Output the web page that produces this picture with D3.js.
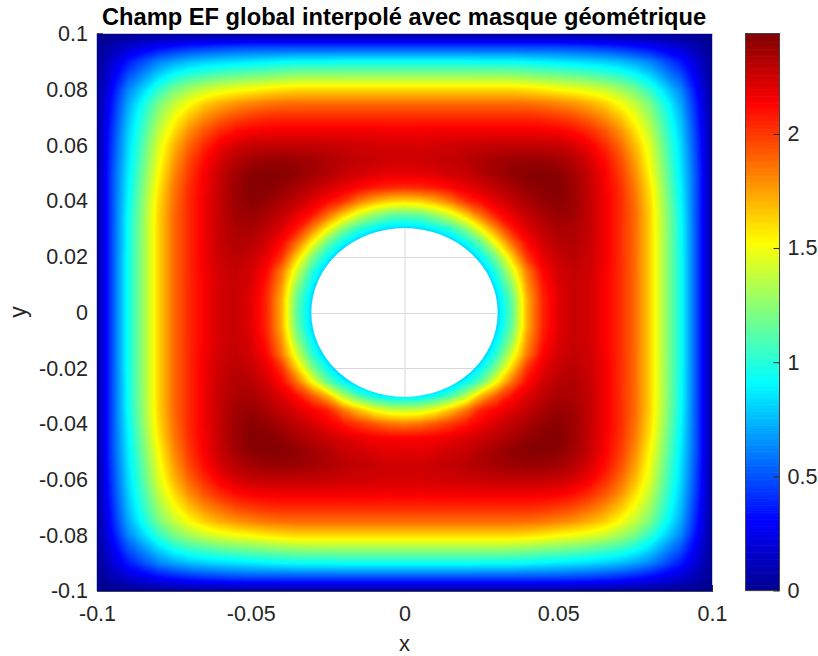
<!DOCTYPE html>
<html>
<head>
<meta charset="utf-8">
<script src="https://cdn.jsdelivr.net/npm/d3@7"></script>
<style>
  html, body { margin: 0; padding: 0; background: #fff; }
  text { font-family: "Liberation Sans", Arial, sans-serif; }
</style>
</head>
<body>
<div id="chart"></div>
<script>
// Values
var xValues = d3.range(41).map(function(i) { return -0.1 + i * 0.005; });
var yValues = d3.range(41).map(function(i) { return 0.1 - i * 0.005; });

var xTicks = [-0.1, -0.05, 0, 0.05, 0.1];
var xTickLabels = ["-0.1", "-0.05", "0", "0.05", "0.1"];
var yTicks = [-0.1, -0.08, -0.06, -0.04, -0.02, 0, 0.02, 0.04, 0.06, 0.08, 0.1];
var yTickLabels = ["-0.1", "-0.08", "-0.06", "-0.04", "-0.02", "0", "0.02", "0.04", "0.06", "0.08", "0.1"];
var barTicks = [0, 0.5, 1, 1.5, 2];
var barTickLabels = ["0", "0.5", "1", "1.5", "2"];
var fieldMax = 2.44;
var holeRadius = 0.0303;
var jetStops = [0, 0.125, 0.375, 0.625, 0.875, 1];
var jetColors = ["#00008f", "#0000ff", "#00ffff", "#ffff00", "#ff0000", "#800000"];

// Field values, one row per y from 0.1 down to -0.1
var fieldRows = [
[0,.01,.01,.02,.02,.02,.02,.03,.03,.03,.03,.03,.03,.03,.03,.03,.03,.03,.03,.03,.03,.03,.03,.03,.03,.03,.03,.03,.03,.03,.03,.03,.03,.03,.02,.02,.02,.02,.01,.01,0],
[.01,.10,.19,.25,.32,.37,.41,.44,.46,.48,.49,.49,.49,.49,.49,.49,.49,.49,.49,.49,.49,.49,.49,.49,.49,.49,.49,.49,.49,.49,.49,.48,.46,.44,.41,.37,.32,.25,.19,.10,.01],
[.01,.19,.36,.49,.62,.70,.76,.80,.83,.85,.87,.89,.91,.93,.93,.93,.94,.94,.94,.94,.94,.94,.94,.94,.94,.93,.93,.93,.91,.89,.87,.85,.83,.80,.76,.70,.62,.49,.36,.19,.01],
[.02,.25,.49,.65,.82,.95,1.04,1.09,1.14,1.17,1.20,1.22,1.25,1.27,1.28,1.28,1.28,1.28,1.28,1.28,1.28,1.28,1.28,1.28,1.28,1.28,1.28,1.27,1.25,1.22,1.20,1.17,1.14,1.09,1.04,.95,.82,.65,.49,.25,.02],
[.02,.32,.62,.82,1.03,1.20,1.31,1.40,1.46,1.50,1.53,1.57,1.60,1.62,1.62,1.62,1.62,1.62,1.62,1.62,1.62,1.62,1.62,1.62,1.62,1.62,1.62,1.62,1.60,1.57,1.53,1.50,1.46,1.40,1.31,1.20,1.03,.82,.62,.32,.02],
[.02,.37,.70,.95,1.20,1.38,1.52,1.64,1.72,1.78,1.82,1.85,1.87,1.88,1.88,1.88,1.88,1.88,1.88,1.88,1.88,1.88,1.88,1.88,1.88,1.88,1.88,1.88,1.87,1.85,1.82,1.78,1.72,1.64,1.52,1.38,1.20,.95,.70,.37,.02],
[.03,.40,.75,1.02,1.29,1.50,1.67,1.80,1.89,1.96,2.00,2.03,2.04,2.04,2.04,2.04,2.04,2.04,2.04,2.04,2.04,2.04,2.04,2.04,2.04,2.04,2.04,2.04,2.04,2.03,2.00,1.96,1.89,1.80,1.67,1.50,1.29,1.02,.75,.40,.03],
[.03,.43,.79,1.07,1.37,1.60,1.80,1.94,2.04,2.11,2.15,2.16,2.17,2.17,2.17,2.17,2.17,2.17,2.17,2.16,2.16,2.16,2.17,2.17,2.17,2.17,2.17,2.17,2.17,2.16,2.15,2.11,2.04,1.94,1.80,1.60,1.37,1.07,.79,.43,.03],
[.03,.45,.82,1.12,1.44,1.69,1.89,2.04,2.16,2.23,2.27,2.28,2.28,2.28,2.28,2.27,2.26,2.25,2.24,2.23,2.23,2.23,2.24,2.25,2.26,2.27,2.28,2.28,2.28,2.28,2.27,2.23,2.16,2.04,1.89,1.69,1.44,1.12,.82,.45,.03],
[.03,.47,.84,1.15,1.48,1.75,1.96,2.11,2.23,2.31,2.35,2.37,2.38,2.37,2.35,2.33,2.30,2.28,2.27,2.25,2.25,2.25,2.27,2.28,2.30,2.33,2.35,2.37,2.38,2.37,2.35,2.31,2.23,2.11,1.96,1.75,1.48,1.15,.84,.47,.03],
[.03,.49,.86,1.19,1.52,1.80,2.00,2.15,2.27,2.35,2.41,2.43,2.42,2.40,2.36,2.32,2.27,2.25,2.22,2.20,2.20,2.20,2.22,2.25,2.27,2.32,2.36,2.40,2.42,2.43,2.41,2.35,2.27,2.15,2.00,1.80,1.52,1.19,.86,.49,.03],
[.03,.49,.88,1.22,1.57,1.84,2.03,2.16,2.28,2.37,2.43,2.42,2.39,2.34,2.29,2.24,2.19,2.13,2.08,2.05,2.04,2.05,2.08,2.13,2.19,2.24,2.29,2.34,2.39,2.42,2.43,2.37,2.28,2.16,2.03,1.84,1.57,1.22,.88,.49,.03],
[.03,.49,.90,1.25,1.60,1.86,2.04,2.17,2.28,2.37,2.41,2.39,2.34,2.28,2.21,2.12,2.02,1.85,1.72,1.64,1.61,1.64,1.72,1.85,2.02,2.12,2.21,2.28,2.34,2.39,2.41,2.37,2.28,2.17,2.04,1.86,1.60,1.25,.90,.49,.03],
[.03,.49,.92,1.27,1.62,1.88,2.04,2.17,2.28,2.36,2.38,2.34,2.28,2.19,2.08,1.87,1.64,1.43,1.27,1.16,1.13,1.16,1.27,1.43,1.64,1.87,2.08,2.19,2.28,2.34,2.38,2.36,2.28,2.17,2.04,1.88,1.62,1.27,.92,.49,.03],
[.03,.49,.93,1.28,1.62,1.88,2.04,2.17,2.28,2.33,2.34,2.29,2.21,2.08,1.82,1.53,1.23,1.03,.91,.82,.80,.82,.91,1.03,1.23,1.53,1.82,2.08,2.21,2.29,2.34,2.33,2.28,2.17,2.04,1.88,1.62,1.28,.93,.49,.03],
[.03,.49,.93,1.28,1.62,1.88,2.04,2.17,2.27,2.32,2.31,2.24,2.12,1.87,1.53,1.16,.93,.74,.57,.46,.42,.46,.57,.74,.93,1.16,1.53,1.87,2.12,2.24,2.31,2.32,2.27,2.17,2.04,1.88,1.62,1.28,.93,.49,.03],
[.03,.49,.94,1.28,1.62,1.88,2.04,2.17,2.26,2.30,2.27,2.19,2.02,1.64,1.23,.93,.66,.42,.25,.15,.12,.15,.25,.42,.66,.93,1.23,1.64,2.02,2.19,2.27,2.30,2.26,2.17,2.04,1.88,1.62,1.28,.94,.49,.03],
[.03,.49,.94,1.28,1.62,1.88,2.04,2.16,2.25,2.28,2.24,2.13,1.85,1.43,1.03,.74,.42,.17,.08,.05,.05,.05,.08,.17,.42,.74,1.03,1.43,1.85,2.13,2.24,2.28,2.25,2.16,2.04,1.88,1.62,1.28,.94,.49,.03],
[.03,.49,.94,1.28,1.62,1.88,2.04,2.15,2.24,2.27,2.22,2.08,1.78,1.27,.91,.57,.25,.08,.05,.05,.05,.05,.05,.08,.25,.57,.91,1.27,1.78,2.08,2.22,2.27,2.24,2.15,2.04,1.88,1.62,1.28,.94,.49,.03],
[.03,.49,.94,1.28,1.62,1.88,2.04,2.15,2.24,2.27,2.20,2.05,1.72,1.16,.82,.46,.15,.06,.05,.05,.05,.05,.05,.06,.15,.46,.82,1.16,1.72,2.05,2.20,2.27,2.24,2.15,2.04,1.88,1.62,1.28,.94,.49,.03],
[.03,.49,.94,1.28,1.62,1.88,2.04,2.15,2.24,2.27,2.21,2.05,1.72,1.13,.80,.42,.12,.05,.05,.05,.05,.05,.05,.05,.12,.42,.80,1.13,1.72,2.05,2.21,2.27,2.24,2.15,2.04,1.88,1.62,1.28,.94,.49,.03],
[.03,.49,.94,1.28,1.62,1.88,2.04,2.15,2.24,2.27,2.20,2.05,1.72,1.16,.82,.46,.15,.06,.05,.05,.05,.05,.05,.06,.15,.46,.82,1.16,1.72,2.05,2.20,2.27,2.24,2.15,2.04,1.88,1.62,1.28,.94,.49,.03],
[.03,.49,.94,1.28,1.62,1.88,2.04,2.15,2.24,2.27,2.22,2.08,1.78,1.27,.91,.57,.25,.08,.05,.05,.05,.05,.05,.08,.25,.57,.91,1.27,1.78,2.08,2.22,2.27,2.24,2.15,2.04,1.88,1.62,1.28,.94,.49,.03],
[.03,.49,.94,1.28,1.62,1.88,2.04,2.16,2.25,2.28,2.24,2.13,1.85,1.43,1.03,.74,.42,.17,.08,.05,.05,.05,.08,.17,.42,.74,1.03,1.43,1.85,2.13,2.24,2.28,2.25,2.16,2.04,1.88,1.62,1.28,.94,.49,.03],
[.03,.49,.94,1.28,1.62,1.88,2.04,2.17,2.26,2.30,2.27,2.19,2.02,1.64,1.23,.93,.66,.42,.25,.15,.12,.15,.25,.42,.66,.93,1.23,1.64,2.02,2.19,2.27,2.30,2.26,2.17,2.04,1.88,1.62,1.28,.94,.49,.03],
[.03,.49,.93,1.28,1.62,1.88,2.04,2.17,2.27,2.32,2.31,2.24,2.12,1.87,1.53,1.16,.93,.74,.57,.46,.42,.46,.57,.74,.93,1.16,1.53,1.87,2.12,2.24,2.31,2.32,2.27,2.17,2.04,1.88,1.62,1.28,.93,.49,.03],
[.03,.49,.93,1.28,1.62,1.88,2.04,2.17,2.28,2.33,2.34,2.29,2.21,2.10,1.92,1.70,1.35,1.10,.95,.86,.84,.86,.95,1.10,1.35,1.70,1.92,2.10,2.21,2.29,2.34,2.33,2.28,2.17,2.04,1.88,1.62,1.28,.93,.49,.03],
[.03,.49,.92,1.27,1.62,1.88,2.04,2.17,2.28,2.36,2.38,2.34,2.28,2.21,2.14,2.06,1.85,1.67,1.50,1.40,1.38,1.40,1.50,1.67,1.85,2.06,2.14,2.21,2.28,2.34,2.38,2.36,2.28,2.17,2.04,1.88,1.62,1.27,.92,.49,.03],
[.03,.49,.90,1.25,1.60,1.86,2.04,2.17,2.28,2.37,2.41,2.39,2.34,2.29,2.23,2.16,2.08,2.00,1.93,1.86,1.83,1.86,1.93,2.00,2.08,2.16,2.23,2.29,2.34,2.39,2.41,2.37,2.28,2.17,2.04,1.86,1.60,1.25,.90,.49,.03],
[.03,.49,.88,1.22,1.57,1.84,2.03,2.16,2.28,2.37,2.43,2.42,2.39,2.34,2.30,2.26,2.22,2.18,2.15,2.14,2.14,2.14,2.15,2.18,2.22,2.26,2.30,2.34,2.39,2.42,2.43,2.37,2.28,2.16,2.03,1.84,1.57,1.22,.88,.49,.03],
[.03,.49,.86,1.19,1.52,1.80,2.00,2.15,2.27,2.35,2.41,2.43,2.42,2.40,2.36,2.32,2.27,2.25,2.22,2.20,2.20,2.20,2.22,2.25,2.27,2.32,2.36,2.40,2.42,2.43,2.41,2.35,2.27,2.15,2.00,1.80,1.52,1.19,.86,.49,.03],
[.03,.47,.84,1.15,1.48,1.75,1.96,2.11,2.23,2.31,2.35,2.37,2.38,2.37,2.35,2.33,2.30,2.28,2.27,2.25,2.25,2.25,2.27,2.28,2.30,2.33,2.35,2.37,2.38,2.37,2.35,2.31,2.23,2.11,1.96,1.75,1.48,1.15,.84,.47,.03],
[.03,.45,.82,1.12,1.44,1.69,1.89,2.04,2.16,2.23,2.27,2.28,2.28,2.28,2.28,2.27,2.26,2.25,2.24,2.23,2.23,2.23,2.24,2.25,2.26,2.27,2.28,2.28,2.28,2.28,2.27,2.23,2.16,2.04,1.89,1.69,1.44,1.12,.82,.45,.03],
[.03,.43,.79,1.07,1.37,1.60,1.80,1.94,2.04,2.11,2.15,2.16,2.17,2.17,2.17,2.17,2.17,2.17,2.17,2.16,2.16,2.16,2.17,2.17,2.17,2.17,2.17,2.17,2.17,2.16,2.15,2.11,2.04,1.94,1.80,1.60,1.37,1.07,.79,.43,.03],
[.03,.40,.75,1.02,1.29,1.50,1.67,1.80,1.89,1.96,2.00,2.03,2.04,2.04,2.04,2.04,2.04,2.04,2.04,2.04,2.04,2.04,2.04,2.04,2.04,2.04,2.04,2.04,2.04,2.03,2.00,1.96,1.89,1.80,1.67,1.50,1.29,1.02,.75,.40,.03],
[.02,.37,.70,.95,1.20,1.38,1.52,1.64,1.72,1.78,1.82,1.85,1.87,1.88,1.88,1.88,1.88,1.88,1.88,1.88,1.88,1.88,1.88,1.88,1.88,1.88,1.88,1.88,1.87,1.85,1.82,1.78,1.72,1.64,1.52,1.38,1.20,.95,.70,.37,.02],
[.02,.32,.62,.82,1.03,1.20,1.31,1.40,1.46,1.50,1.53,1.57,1.60,1.62,1.62,1.62,1.62,1.62,1.62,1.62,1.62,1.62,1.62,1.62,1.62,1.62,1.62,1.62,1.60,1.57,1.53,1.50,1.46,1.40,1.31,1.20,1.03,.82,.62,.32,.02],
[.02,.25,.49,.65,.82,.95,1.04,1.09,1.14,1.17,1.20,1.22,1.25,1.27,1.28,1.28,1.28,1.28,1.28,1.28,1.28,1.28,1.28,1.28,1.28,1.28,1.28,1.27,1.25,1.22,1.20,1.17,1.14,1.09,1.04,.95,.82,.65,.49,.25,.02],
[.01,.19,.36,.49,.62,.70,.76,.80,.83,.85,.87,.89,.91,.93,.93,.93,.94,.94,.94,.94,.94,.94,.94,.94,.94,.93,.93,.93,.91,.89,.87,.85,.83,.80,.76,.70,.62,.49,.36,.19,.01],
[.01,.10,.19,.25,.32,.37,.41,.44,.46,.48,.49,.49,.49,.49,.49,.49,.49,.49,.49,.49,.49,.49,.49,.49,.49,.49,.49,.49,.49,.49,.49,.48,.46,.44,.41,.37,.32,.25,.19,.10,.01],
[0,.01,.01,.02,.02,.02,.02,.03,.03,.03,.03,.03,.03,.03,.03,.03,.03,.03,.03,.03,.03,.03,.03,.03,.03,.03,.03,.03,.03,.03,.03,.03,.03,.03,.02,.02,.02,.02,.01,.01,0]
];

// Set the dimensions of the page and the plot area
var width = 818, height = 656;
var plot = {left: 97, right: 712, top: 34, bottom: 591};
var bar = {left: 745.5, right: 779.5, top: 33.5, bottom: 590.5};
var inkColor = "#262626";

var svg = d3.select("#chart").append("svg")
    .attr("width", width)
    .attr("height", height)
    .style("display", "block");

// Scales
var x = d3.scaleLinear().domain([-0.1, 0.1]).range([plot.left, plot.right]);
var y = d3.scaleLinear().domain([-0.1, 0.1]).range([plot.bottom, plot.top]);
var barY = d3.scaleLinear().domain([0, fieldMax]).range([bar.bottom, bar.top]);
var jet = d3.scaleLinear()
    .domain(jetStops.map(function(t) { return t * fieldMax; }))
    .range(jetColors);

// Grid lines sit under the field and show through the hole
svg.append("g").selectAll("line")
    .data(xTicks)
    .enter().append("line")
    .attr("x1", function(d) { return x(d) + 0.5; })
    .attr("x2", function(d) { return x(d) + 0.5; })
    .attr("y1", plot.top)
    .attr("y2", plot.bottom)
    .attr("stroke", "#d9d9d9");
svg.append("g").selectAll("line")
    .data(yTicks)
    .enter().append("line")
    .attr("x1", plot.left)
    .attr("x2", plot.right)
    .attr("y1", function(d) { return Math.round(y(d)) + 0.5; })
    .attr("y2", function(d) { return Math.round(y(d)) + 0.5; })
    .attr("stroke", "#d9d9d9");

// Box around the plot
svg.append("path")
    .attr("d", "M" + (plot.left - 0.5) + "," + plot.bottom + "V" + (plot.top - 0.5) + "H" + (plot.right + 0.5) + "V" + plot.bottom)
    .attr("fill", "none")
    .attr("stroke", "#c9c9d6");

// Add the x-axis
var xAxis = svg.append("g")
    .attr("transform", "translate(0," + plot.bottom + ")")
    .call(d3.axisBottom(x)
        .tickValues(xTicks)
        .tickFormat(function(d, i) { return xTickLabels[i]; })
        .tickSizeInner(-6)
        .tickSizeOuter(0)
        .tickPadding(15));

// Add the y-axis
var yAxis = svg.append("g")
    .attr("transform", "translate(" + plot.left + ",0)")
    .call(d3.axisLeft(y)
        .tickValues(yTicks)
        .tickFormat(function(d, i) { return yTickLabels[i]; })
        .tickSizeInner(-6)
        .tickSizeOuter(0)
        .tickPadding(9));
yAxis.select(".domain").attr("stroke", "#3a3a5a");

// Filled contours of the field, lowest level first
var nx = xValues.length, ny = yValues.length;
var flat = d3.merge(fieldRows);
var levelStep = fieldMax / 320;
var levels = d3.range(0, fieldMax, levelStep);
var contours = d3.contours().size([nx, ny]).smooth(true).thresholds(levels)(flat);

var gridX = d3.scaleLinear().domain([0.5, nx - 0.5]).range([x(xValues[0]), x(xValues[nx - 1])]);
var gridY = d3.scaleLinear().domain([0.5, ny - 0.5]).range([y(yValues[0]), y(yValues[ny - 1])]);
var path = d3.geoPath(d3.geoTransform({
    point: function(px, py) { this.stream.point(gridX(px), gridY(py)); }
}));

svg.append("clipPath").attr("id", "plot-clip")
    .append("rect")
    .attr("x", plot.left)
    .attr("y", plot.top)
    .attr("width", plot.right - plot.left)
    .attr("height", plot.bottom - plot.top);

// The field is masked by the hole so the grid lines stay visible inside it
var mask = svg.append("mask").attr("id", "hole-mask")
    .attr("maskUnits", "userSpaceOnUse")
    .attr("x", 0).attr("y", 0).attr("width", width).attr("height", height);
mask.append("rect").attr("width", width).attr("height", height).attr("fill", "#fff");
mask.append("ellipse")
    .attr("cx", x(0))
    .attr("cy", y(0))
    .attr("rx", x(holeRadius) - x(0))
    .attr("ry", y(0) - y(holeRadius))
    .attr("fill", "#000");

svg.append("g")
    .attr("clip-path", "url(#plot-clip)")
    .append("g")
    .attr("mask", "url(#hole-mask)")
    .selectAll("path")
    .data(contours)
    .enter().append("path")
    .attr("d", path)
    .attr("fill", function(d) { return jet(d.value + levelStep / 2); });

// Bottom line and the corner ticks stay on top of the field
svg.append("line")
    .attr("x1", plot.left)
    .attr("x2", plot.right + 1)
    .attr("y1", plot.bottom + 0.5)
    .attr("y2", plot.bottom + 0.5)
    .attr("stroke", "#3f3f55");
svg.append("line")
    .attr("x1", plot.left)
    .attr("x2", plot.left + 6)
    .attr("y1", plot.top - 0.5)
    .attr("y2", plot.top - 0.5)
    .attr("stroke", "#555");

// Colorbar, one rect per level
svg.append("g").selectAll("rect")
    .data(levels)
    .enter().append("rect")
    .attr("x", bar.left)
    .attr("width", bar.right - bar.left)
    .attr("y", function(d) { return barY(d + levelStep); })
    .attr("height", function(d) { return barY(d) - barY(d + levelStep) + 0.6; })
    .attr("fill", function(d) { return jet(d + levelStep / 2); });

svg.append("rect")
    .attr("x", bar.left)
    .attr("y", bar.top)
    .attr("width", bar.right - bar.left)
    .attr("height", bar.bottom - bar.top)
    .attr("fill", "none")
    .attr("stroke", "#444");

var barAxis = svg.append("g")
    .attr("transform", "translate(" + bar.right + ",0)")
    .call(d3.axisRight(barY)
        .tickValues(barTicks)
        .tickFormat(function(d, i) { return barTickLabels[i]; })
        .tickSizeInner(-6)
        .tickSizeOuter(0)
        .tickPadding(8));
barAxis.select(".domain").remove();

// Axis text styles
[xAxis, yAxis, barAxis].forEach(function(g) {
    g.attr("font-family", null).attr("font-size", null);
    g.selectAll("text").attr("font-size", 21.5).attr("fill", inkColor);
    g.selectAll("line").attr("stroke", inkColor);
});
xAxis.select(".domain").attr("stroke", inkColor);

// Titles
svg.append("text")
    .attr("x", 404)
    .attr("y", 24.5)
    .attr("text-anchor", "middle")
    .attr("font-size", 23.7)
    .attr("font-weight", "bold")
    .attr("fill", "#000")
    .text("Champ EF global interpolé avec masque géométrique");

svg.append("text")
    .attr("x", 404.5)
    .attr("y", 651)
    .attr("text-anchor", "middle")
    .attr("font-size", 22)
    .attr("fill", inkColor)
    .text("x");

svg.append("text")
    .attr("transform", "translate(26,312) rotate(-90)")
    .attr("text-anchor", "middle")
    .attr("font-size", 23)
    .attr("fill", inkColor)
    .text("y");
</script>
</body>
</html>
